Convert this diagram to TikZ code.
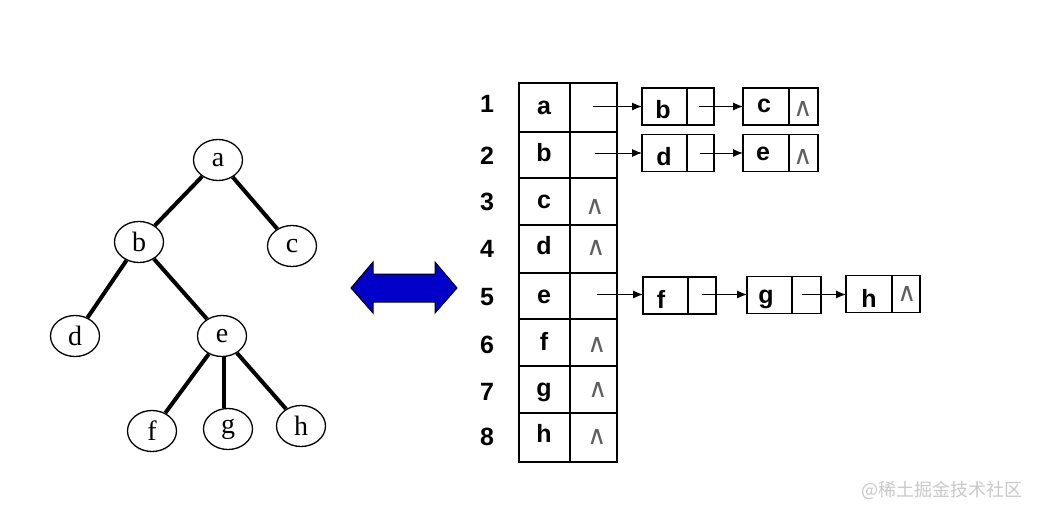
\documentclass[tikz,border=0pt]{standalone}
\usepackage{fontspec}
\setmainfont{Liberation Serif}
\newfontfamily\arialb[BoldFont={Liberation Sans Bold}]{Liberation Sans}
\newfontfamily\symf{DejaVu Sans}
\newfontfamily\cjk{Noto Sans CJK SC}
\usetikzlibrary{arrows.meta,shapes.geometric}
\definecolor{arrowblue}{RGB}{0,0,200}
\definecolor{nullgray}{RGB}{95,95,95}
\definecolor{wmgray}{RGB}{200,200,200}
\tikzset{
  tnode/.style={draw=black, line width=1.3pt, ellipse, minimum width=49pt, minimum height=41pt, inner sep=0pt, font=\fontsize{28}{28}\selectfont},
  tedge/.style={line width=4pt},
  tlabel/.style={inner sep=0pt, anchor=base, font=\fontsize{25}{25}\arialb\bfseries},
  nullsym/.style={inner sep=0pt, text=nullgray, font=\fontsize{26}{26}\symf},
  lbox/.style={draw=black, line width=1.2pt, minimum height=37pt, inner sep=0pt, outer sep=0pt},
  ptr/.style={line width=1pt, -{Latex[length=10pt,width=8pt]}},
  outerframe/.style={line width=2.8pt},
  innerline/.style={line width=1.1pt}
}
\begin{document}
\begin{tikzpicture}[x=1pt,y=-1pt]
\useasboundingbox (0,0) rectangle (1038,516);
% ---------- tree ----------
\node[tnode] (a) at (218,160) {a};
\node[tnode] (b) at (139,242) {b};
\node[tnode] (c) at (292,246) {c};
\node[tnode] (d) at (75,336) {d};
\node[tnode] (e) at (222,336) {e};
\node[tnode] (f) at (152,431) {f};
\node[tnode] (g) at (228,429) {g};
\node[tnode] (h) at (301,426) {h};
\draw[tedge] (a) -- (b);
\draw[tedge] (a) -- (c);
\draw[tedge] (b) -- (d);
\draw[tedge] (b) -- (e);
\draw[tedge] (e) -- (f);
\draw[tedge] ([xshift=2pt]e.south) -- ([xshift=-4pt]g.north);
\draw[tedge] (e) -- (h);
% ---------- double arrow ----------
\draw[fill=arrowblue, draw=black, line width=1pt]
  (351,288) -- (373,262) -- (373,274) -- (435,274) -- (435,262) -- (457,288)
  -- (435,313) -- (435,302) -- (373,302) -- (373,313) -- cycle;
% ---------- table ----------
\foreach \yy in {132,178,225,273,319,366,413} {
  \draw[innerline] (519,\yy) -- (617,\yy);
}
\draw[innerline] (570,83) -- (570,462);
\draw[outerframe] (519,83) rectangle (617,462);
% row numbers
\node[tlabel] (n1) at (487,113) {1};
\node[tlabel] (n2) at (487,164) {2};
\node[tlabel] (n3) at (487,210) {3};
\node[tlabel] (n4) at (487,257) {4};
\node[tlabel] (n5) at (487,305) {5};
\node[tlabel] (n6) at (487,353) {6};
\node[tlabel] (n7) at (487,400) {7};
\node[tlabel] (n8) at (487,445) {8};
% vertex letters
\node[tlabel] (va) at (544,115) {a};
\node[tlabel] (vb) at (544,161) {b};
\node[tlabel] (vc) at (544,208) {c};
\node[tlabel] (vd) at (544,254) {d};
\node[tlabel] (ve) at (544,303) {e};
\node[tlabel] (vf) at (544,350) {f};
\node[tlabel] (vg) at (544,396) {g};
\node[tlabel] (vh) at (544,442) {h};
% null pointers in table
\node[nullsym] (z3) at (595,207) {∧};
\node[nullsym] (z4) at (596,248) {∧};
\node[nullsym] (z6) at (597,345) {∧};
\node[nullsym] (z7) at (598,390) {∧};
\node[nullsym] (z8) at (597,437) {∧};
% ---------- adjacency lists ----------
% row 1
\node[lbox, minimum width=45pt] (L1b) at (664.5,106.5) {};
\node[lbox, minimum width=27pt, anchor=west] (L1bp) at (L1b.east) {};
\node[lbox, minimum width=46pt] (L1c) at (766,106.5) {};
\node[lbox, minimum width=29pt, anchor=west] (L1cp) at (L1c.east) {};
\node[tlabel] (t1b) at (663,119) {b};
\node[tlabel] (t1c) at (764,113) {c};
\node[nullsym] (z1c) at (803,109) {∧};
\coordinate (s1) at (593,106.5);
\coordinate (s1b) at (699,106.5);
\draw[ptr] (s1) -- (L1b.west);
\draw[ptr] (s1b) -- (L1c.west);
% row 2
\node[lbox, minimum width=45pt] (L2d) at (664.5,153) {};
\node[lbox, minimum width=27pt, anchor=west] (L2dp) at (L2d.east) {};
\node[lbox, minimum width=46pt] (L2e) at (766,153) {};
\node[lbox, minimum width=29pt, anchor=west] (L2ep) at (L2e.east) {};
\node[tlabel] (t2d) at (664,165) {d};
\node[tlabel] (t2e) at (763,160) {e};
\node[nullsym] (z2e) at (803,157) {∧};
\coordinate (s2) at (595,153);
\coordinate (s2d) at (700,153);
\draw[ptr] (s2) -- (L2d.west);
\draw[ptr] (s2d) -- (L2e.west);
% row 5
\node[lbox, minimum width=45pt] (L5f) at (665.5,295.5) {};
\node[lbox, minimum width=28pt, anchor=west] (L5fp) at (L5f.east) {};
\node[lbox, minimum width=45pt] (L5g) at (769.5,295) {};
\node[lbox, minimum width=29pt, anchor=west] (L5gp) at (L5g.east) {};
\node[lbox, minimum width=46pt] (L5h) at (869,294) {};
\node[lbox, minimum width=28pt, anchor=west] (L5hp) at (L5h.east) {};
\node[tlabel] (t5f) at (661,308) {f};
\node[tlabel] (t5g) at (766,303) {g};
\node[tlabel] (t5h) at (869,307) {h};
\node[nullsym] (z5h) at (907,294) {∧};
\coordinate (s5) at (597,294.5);
\coordinate (s5f) at (702,294.5);
\coordinate (s5g) at (802,294.5);
\draw[ptr] (s5) -- (s5 -| L5f.west);
\draw[ptr] (s5f) -- (s5f -| L5g.west);
\draw[ptr] (s5g) -- (s5g -| L5h.west);
% ---------- watermark ----------
\node[inner sep=0pt, text=wmgray, font=\fontsize{18}{18}\cjk] (wm) at (942,490) {@稀土掘金技术社区};
\end{tikzpicture}
\end{document}
